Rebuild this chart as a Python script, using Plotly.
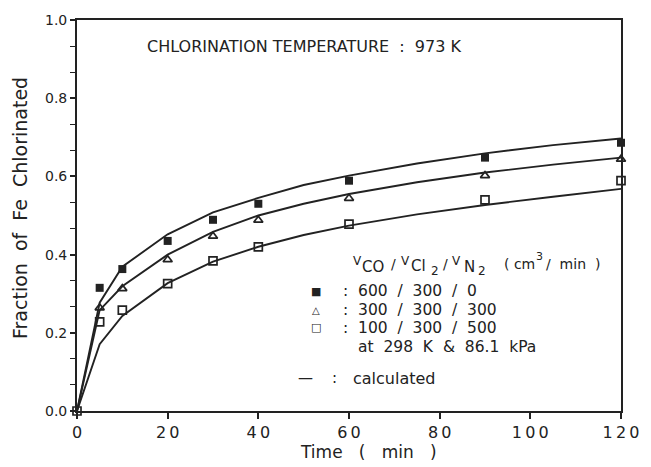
import plotly.graph_objects as go

# ---- data ----
time_meas = [5, 10, 20, 30, 40, 60, 90, 120]
frac_600_300_0 = [0.315, 0.363, 0.435, 0.489, 0.530, 0.589, 0.648, 0.686]
frac_300_300_300 = [0.264, 0.313, 0.387, 0.447, 0.488, 0.544, 0.602, 0.644]
time_meas_open = [0, 5, 10, 20, 30, 40, 60, 90, 120]
frac_100_300_500 = [0, 0.228, 0.258, 0.326, 0.384, 0.420, 0.478, 0.540, 0.589]

time_calc = [0, 5, 10, 20, 30, 40, 50, 60, 75, 90, 105, 120]
calc_600_300_0 = [0, 0.277, 0.369, 0.452, 0.508, 0.545, 0.578, 0.602, 0.633, 0.659, 0.680, 0.697]
calc_300_300_300 = [0, 0.258, 0.319, 0.400, 0.458, 0.500, 0.530, 0.555, 0.585, 0.610, 0.630, 0.648]
calc_100_300_500 = [0, 0.171, 0.243, 0.327, 0.382, 0.420, 0.450, 0.474, 0.503, 0.527, 0.548, 0.568]

x_ticks = [0, 20, 40, 60, 80, 100, 120]
x_tick_labels = ["0", "2\u20090", "4\u20090", "6\u20090", "8\u20090", "1\u20090\u20090", "1\u20092\u20090"]
y_ticks = [0.0, 0.2, 0.4, 0.6, 0.8, 1.0]
y_tick_labels = ["0.0", "0.2", "0.4", "0.6", "0.8", "1.0"]

INK = "#222222"
FONT = "DejaVu Sans, Liberation Sans, Arial, sans-serif"
NB = "\u00a0"

fig = go.Figure()

for yc in [calc_600_300_0, calc_300_300_300, calc_100_300_500]:
    fig.add_trace(go.Scatter(x=time_calc, y=yc, mode="lines",
                             line=dict(color=INK, width=1.9),
                             showlegend=False, hoverinfo="skip"))

fig.add_trace(go.Scatter(x=time_meas, y=frac_600_300_0, mode="markers",
                         marker=dict(symbol="square", size=8, color=INK),
                         showlegend=False, cliponaxis=False))
fig.add_trace(go.Scatter(x=time_meas, y=frac_300_300_300, mode="markers",
                         marker=dict(symbol="triangle-up-open", size=8, color=INK,
                                     line=dict(width=1.7, color=INK)),
                         showlegend=False, cliponaxis=False))
fig.add_trace(go.Scatter(x=time_meas_open, y=frac_100_300_500, mode="markers",
                         marker=dict(symbol="square-open", size=8, color=INK,
                                     line=dict(width=1.7, color=INK)),
                         showlegend=False, cliponaxis=False))

# minor ticks on y at thirds of 0.2
minor_y = [round(i * 0.2 / 3, 4) for i in range(16)]

fig.update_xaxes(range=[0, 120], tickvals=x_ticks, ticktext=x_tick_labels,
                 ticks="outside", ticklen=6, tickwidth=1.5, tickcolor=INK,
                 showline=True, linecolor=INK, linewidth=1.9, mirror=True,
                 showgrid=False, zeroline=False,
                 tickfont=dict(family=FONT, size=16, color=INK))
fig.update_yaxes(range=[0, 1.0], tickvals=y_ticks, ticktext=y_tick_labels,
                 ticks="outside", ticklen=5, tickwidth=1.5, tickcolor=INK,
                 minor=dict(tickvals=minor_y, ticks="outside", ticklen=5,
                            tickwidth=1.3, tickcolor=INK),
                 showline=True, linecolor=INK, linewidth=1.9, mirror=True,
                 showgrid=False, zeroline=False,
                 tickfont=dict(family=FONT, size=14, color=INK),
                 ticklabelstandoff=0)

L, T, W, H = 77, 16, 553, 395


def px(x, y):
    return (x - L) / W, (T + H - y) / H


anns = []


def add(text, x, y, size=15, xanchor="left", angle=0):
    xp, yp = px(x, y)
    anns.append(dict(text=text, x=xp, y=yp, xref="paper", yref="paper",
                     xanchor=xanchor, yanchor="middle", showarrow=False,
                     textangle=angle,
                     font=dict(family=FONT, size=size, color=INK)))


add(f"CHLORINATION{NB}TEMPERATURE{NB}{NB}:{NB}{NB}973{NB}K", 146, 43, size=16)

# header of the flow-rate legend: V_CO / V_Cl2 / V_N2 ( cm3 / min )
add("V", 356, 259, size=12)
add("CO", 365, 266, size=15)
add("/", 394, 262, size=14)
add("V", 404, 259, size=12)
add("Cl", 415, 265, size=15)
add("2", 435, 270, size=12)
add("/", 447, 262, size=14)
add("V", 456, 259, size=12)
add("N", 468, 266, size=15)
add("2", 483, 270, size=12)
add(f"({NB}cm", 509, 262, size=14)
add("3", 542, 255, size=11)
add(f"/{NB}{NB}min{NB}{NB})", 552, 262, size=14)

add("■", 320, 290, size=11, xanchor="center")
add("△", 320, 309, size=10, xanchor="center")
add("□", 320, 327, size=11, xanchor="center")
add(f":{NB}{NB}600{NB}{NB}/{NB}{NB}300{NB}{NB}/{NB}{NB}0", 345, 290, size=15.5)
add(f":{NB}{NB}300{NB}{NB}/{NB}{NB}300{NB}{NB}/{NB}{NB}300", 345, 309, size=15.5)
add(f":{NB}{NB}100{NB}{NB}/{NB}{NB}300{NB}{NB}/{NB}{NB}500", 345, 327, size=15.5)
add(f"at{NB}{NB}298{NB}{NB}K{NB}{NB}&{NB}{NB}86.1{NB}{NB}kPa", 361, 346, size=15.5)
add("—", 300, 378, size=15)
add(":", 334, 378, size=15)
add("calculated", 356, 378, size=16)

add(f"Time{NB}{NB}{NB}({NB}{NB}{NB}min{NB}{NB}{NB})", 373, 452, size=17, xanchor="center")
add(f"Fraction{NB}{NB}of{NB}{NB}Fe{NB}{NB}Chlorinated", 19, 206, size=19,
    xanchor="center", angle=-90)

fig.update_layout(width=651, height=467,
                  margin=dict(l=L, r=651 - L - W, t=T, b=467 - T - H),
                  paper_bgcolor="white", plot_bgcolor="white",
                  font=dict(family=FONT, color=INK),
                  annotations=anns, showlegend=False)

fig.write_html("out.html")
